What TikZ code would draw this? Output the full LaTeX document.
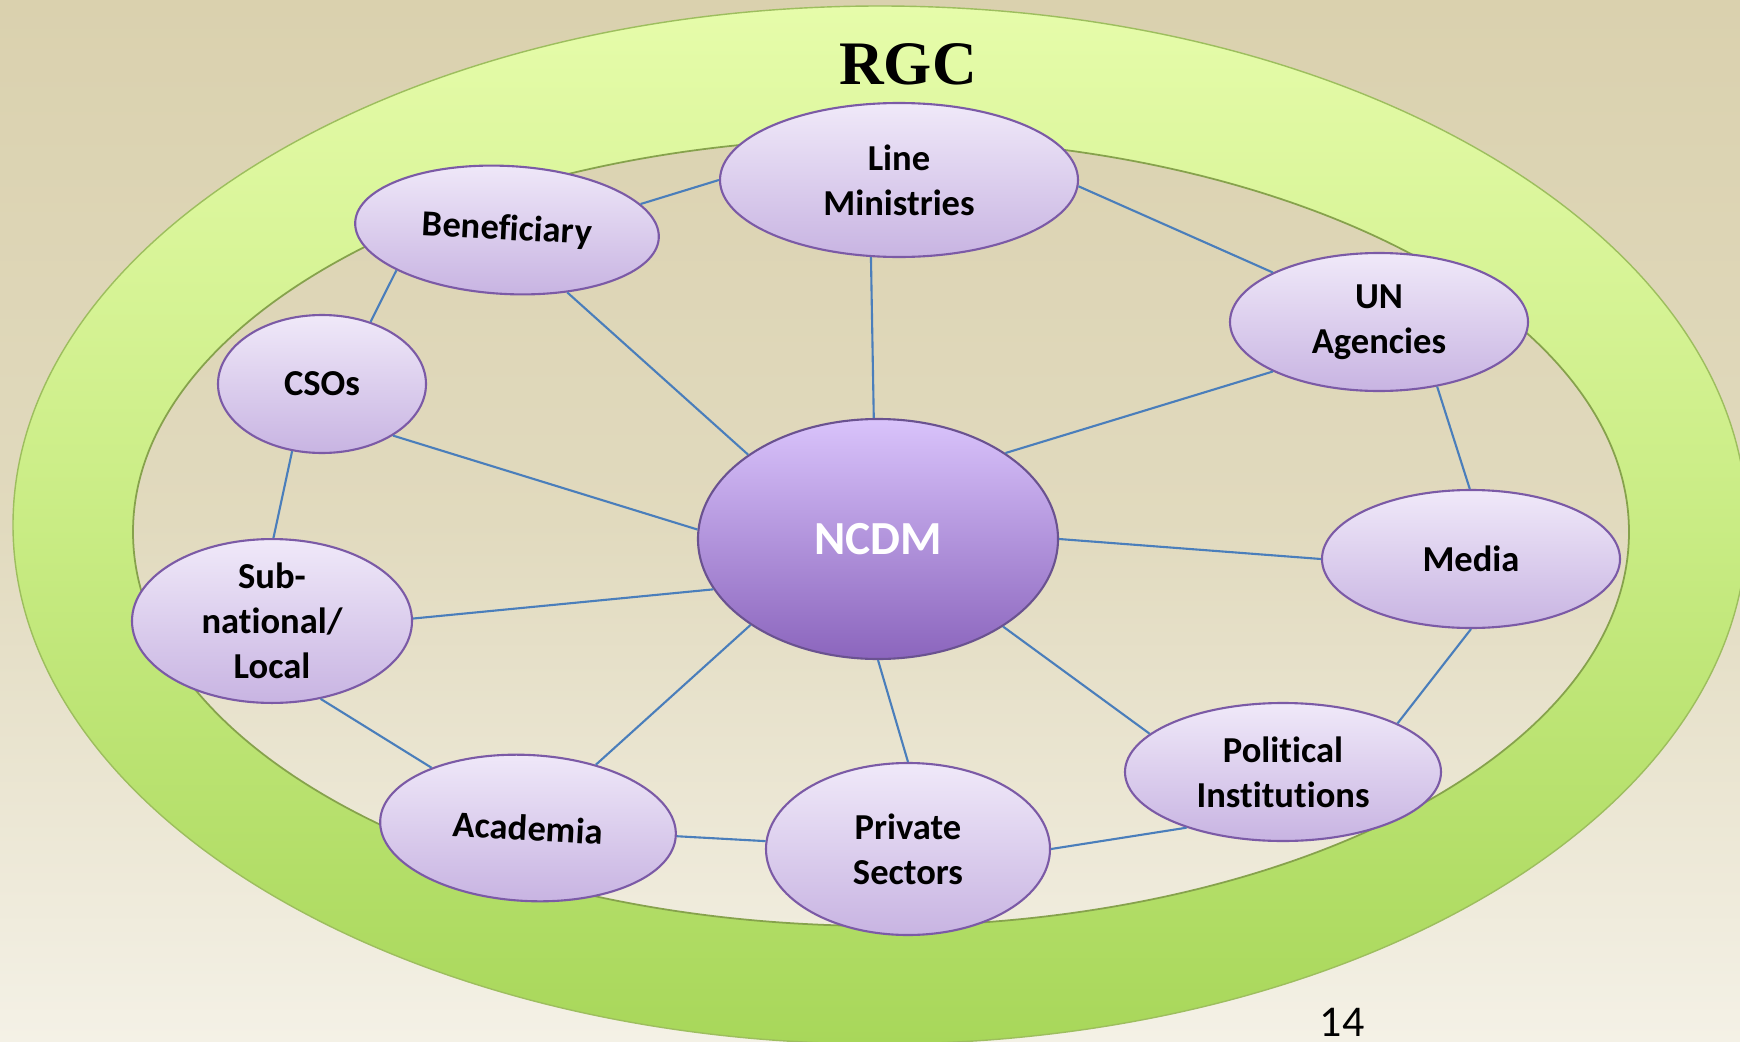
\documentclass[tikz,border=0pt]{standalone}
\usepackage{fontspec}
\setmainfont{Carlito}[Ligatures=NoCommon]
\newfontfamily\rgcfont{Liberation Serif}
\usetikzlibrary{shapes.geometric}
\definecolor{bgtop}{HTML}{DAD1AE}
\definecolor{bgmid}{HTML}{E1DABE}
\definecolor{bgbot}{HTML}{F4F1E6}
\definecolor{ringtop}{HTML}{E6FCAA}
\definecolor{ringmid}{HTML}{C9EC84}
\definecolor{ringbot}{HTML}{A8D75A}
\definecolor{ringline}{HTML}{9DBE5E}
\definecolor{ringinner}{HTML}{86A24C}
\definecolor{partytop}{HTML}{F0E9F9}
\definecolor{partybot}{HTML}{C8B4E2}
\definecolor{partyline}{HTML}{7B5AA6}
\definecolor{hubtop}{HTML}{D9C3FB}
\definecolor{hubbot}{HTML}{8B65BD}
\definecolor{hubline}{HTML}{6A5290}
\definecolor{linkblue}{HTML}{4A7EBB}
\tikzset{
  party/.style={ellipse, draw=partyline, line width=0.6pt, top color=partytop, bottom color=partybot,
    inner sep=0pt, align=center, font=\fontsize{10.4}{12.8}\selectfont\bfseries},
  hub/.style={ellipse, draw=hubline, line width=0.6pt, top color=hubtop, bottom color=hubbot,
    inner sep=0pt, text=white, font=\fontsize{13.5}{16}\selectfont\bfseries},
  link/.style={draw=linkblue, line width=0.6pt}
}
\begin{document}
\begin{tikzpicture}
\useasboundingbox (0,0) rectangle (17.4,-10.42);
\shade [top color=bgtop, bottom color=bgbot, middle color=bgmid] (0,0) rectangle (17.4,-10.42);
\shade [even odd rule, top color=ringtop, bottom color=ringbot, middle color=ringmid] (8.80,-5.25) ellipse (8.67 and 5.19) (8.81,-5.32) ellipse (7.48 and 3.94);
\draw [ringline, line width=0.4pt] (8.80,-5.25) ellipse (8.67 and 5.19);
\draw [ringinner, line width=0.5pt] (8.81,-5.32) ellipse (7.48 and 3.94);
\node (rgc) at (9.08,-0.64) {\rgcfont\bfseries\fontsize{17.6}{20}\selectfont RGC};

\node [party, minimum width=3.58cm, minimum height=1.54cm] (lm) at (8.99,-1.80) {Line\\Ministries};
\node [party, minimum width=3.04cm, minimum height=1.28cm, rotate=-3] (ben) at (5.07,-2.30) {Beneficiary};
\node [party, minimum width=2.98cm, minimum height=1.38cm] (un) at (13.79,-3.22) {UN\\Agencies};
\node [party, minimum width=2.08cm, minimum height=1.38cm] (cso) at (3.22,-3.84) {CSOs};
\node [hub, minimum width=3.60cm, minimum height=2.40cm] (ncdm) at (8.78,-5.39) {NCDM};
\node [party, minimum width=2.98cm, minimum height=1.38cm] (media) at (14.71,-5.59) {Media};
\node [party, minimum width=2.80cm, minimum height=1.58cm] (sub) at (2.72,-6.21) {Sub-\\national/\\Local};
\node [party, minimum width=3.16cm, minimum height=1.38cm] (pol) at (12.83,-7.72) {Political\\Institutions};
\node [party, minimum width=2.96cm, minimum height=1.46cm, rotate=-3] (aca) at (5.28,-8.28) {Academia};
\node [party, minimum width=2.84cm, minimum height=1.72cm] (priv) at (9.08,-8.49) {Private\\Sectors};

\draw [link] (ben.14) -- (lm.180);
\draw [link] (lm.358) -- (un.155);
\draw [link] (lm.250) -- (ncdm.92);
\draw [link] (ben.317) -- (ncdm.147);
\draw [link] (ben.203) -- (cso.52);
\draw [link] (cso.324) -- (ncdm.177);
\draw [link] (cso.246) -- (sub.89);
\draw [link] (un.205) -- (ncdm.34);
\draw [link] (un.312) -- (media.91);
\draw [link] (media.180) -- (ncdm.0);
\draw [link] (media.270) -- (pol.23);
\draw [link] (sub.1) -- (ncdm.197);
\draw [link] (sub.302) -- (aca.151);
\draw [link] (aca.46) -- (ncdm.214);
\draw [link] (aca) -- (priv);
\draw [link] (priv.90) -- (ncdm.270);
\draw [link] (priv.0) -- (pol.210);
\draw [link] (pol.164) -- (ncdm.325);

\node (pagenum) at (13.42,-10.22) {\fontsize{12.5}{15}\selectfont 14};
\end{tikzpicture}
\end{document}
